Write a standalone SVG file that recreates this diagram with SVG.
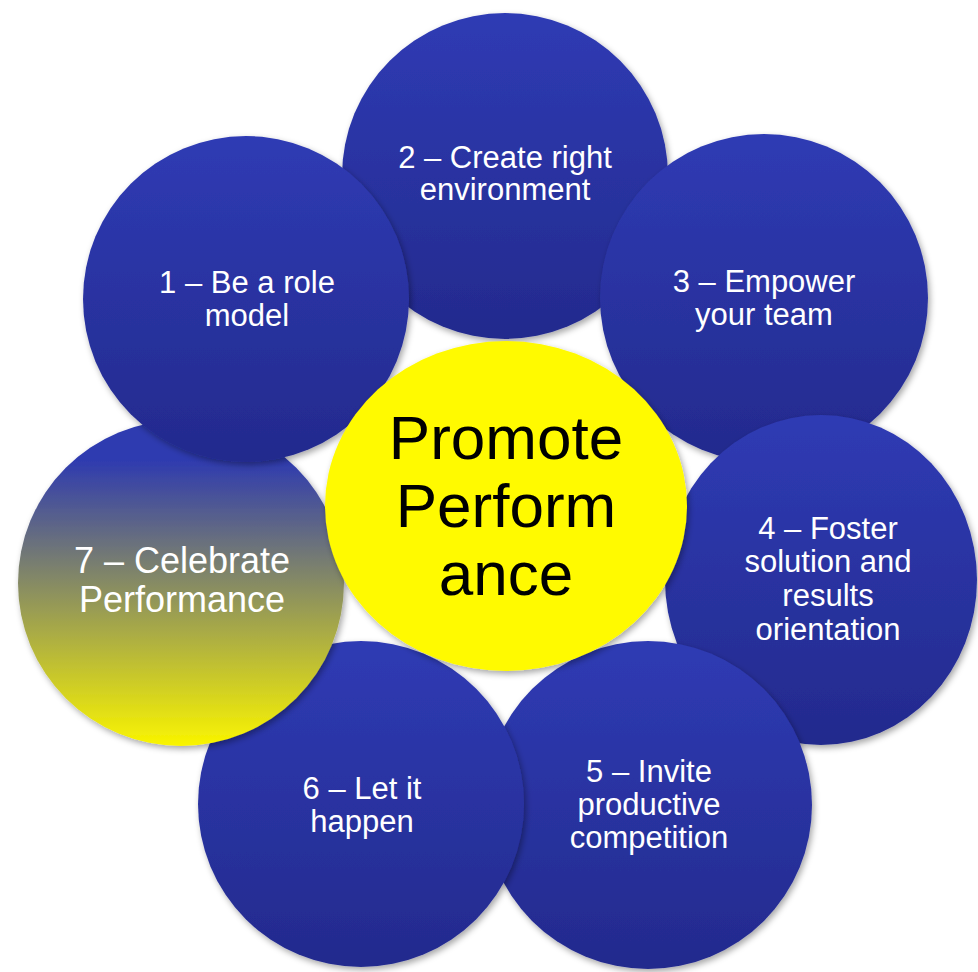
<svg xmlns="http://www.w3.org/2000/svg" width="978" height="972" viewBox="0 0 978 972">
  <style>
    .lbl { font-family: "Liberation Sans", Arial, sans-serif; fill: #ffffff; text-anchor: middle; font-size: 31px; }
    .lbl7 { font-family: "Liberation Sans", Arial, sans-serif; fill: #ffffff; text-anchor: middle; font-size: 36px; }
    .ctr { font-family: "Liberation Sans", Arial, sans-serif; fill: #000000; text-anchor: middle; font-size: 62px; }
    .blue { fill: url(#gBlue); filter: url(#sh); }
  </style>
  <defs>
    <linearGradient id="gBlue" x1="0" y1="0" x2="0" y2="1">
      <stop offset="0" stop-color="#2F3BB4"/>
      <stop offset="1" stop-color="#232A8D"/>
    </linearGradient>
    <linearGradient id="gCeleb" x1="0" y1="0" x2="0" y2="1">
      <stop offset="0.12" stop-color="#2E3AB0"/>
      <stop offset="1" stop-color="#FAF500"/>
    </linearGradient>
    <filter id="sh" x="-10%" y="-10%" width="120%" height="125%">
      <feDropShadow dx="2" dy="3" stdDeviation="3" flood-color="#000000" flood-opacity="0.35"/>
    </filter>
  </defs>
  <rect width="978" height="972" fill="#ffffff"/>

  <g id="node2">
    <circle class="blue" cx="505" cy="176" r="163"/>
    <text class="lbl" x="505" y="168">2 – Create right</text>
    <text class="lbl" x="505" y="200">environment</text>
  </g>
  <g id="node3">
    <circle class="blue" cx="764" cy="298" r="164"/>
    <text class="lbl" x="764" y="292">3 – Empower</text>
    <text class="lbl" x="764" y="325">your team</text>
  </g>
  <g id="node4">
    <ellipse class="blue" cx="821" cy="580" rx="156" ry="165"/>
    <text class="lbl" x="828" y="539">4 – Foster</text>
    <text class="lbl" x="828" y="572">solution and</text>
    <text class="lbl" x="828" y="606">results</text>
    <text class="lbl" x="828" y="640">orientation</text>
  </g>
  <g id="node5">
    <circle class="blue" cx="648" cy="805" r="164"/>
    <text class="lbl" x="649" y="782">5 – Invite</text>
    <text class="lbl" x="649" y="815">productive</text>
    <text class="lbl" x="649" y="848">competition</text>
  </g>
  <g id="node6">
    <circle class="blue" cx="361" cy="804" r="163"/>
    <text class="lbl" x="362" y="799">6 – Let it</text>
    <text class="lbl" x="362" y="832">happen</text>
  </g>
  <g id="node7">
    <circle cx="181" cy="583" r="163" fill="url(#gCeleb)" filter="url(#sh)"/>
    <text class="lbl7" x="182" y="573">7 – Celebrate</text>
    <text class="lbl7" x="182" y="612">Performance</text>
  </g>
  <g id="node1">
    <circle class="blue" cx="246" cy="299" r="163"/>
    <text class="lbl" x="247" y="293">1 – Be a role</text>
    <text class="lbl" x="247" y="326">model</text>
  </g>
  <g id="center">
    <ellipse cx="506" cy="506" rx="181" ry="165" fill="#FFFA00" filter="url(#sh)"/>
    <text class="ctr" x="506" y="459">Promote</text>
    <text class="ctr" x="506" y="527">Perform</text>
    <text class="ctr" x="506" y="595">ance</text>
  </g>
  <g id="connectors"/>
</svg>
